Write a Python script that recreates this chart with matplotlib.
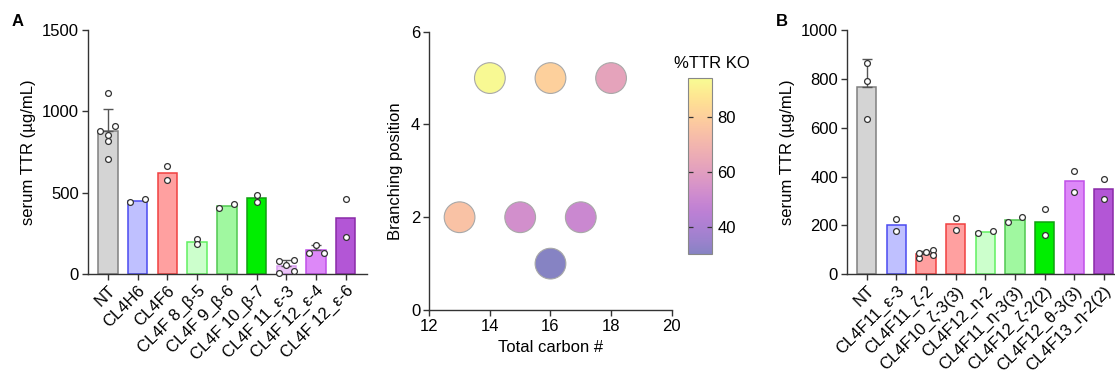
import numpy as np
import matplotlib
matplotlib.use("Agg")
import matplotlib.pyplot as plt
from matplotlib.colors import ListedColormap

plt.rcParams['font.family'] = ['Liberation Sans', 'DejaVu Sans']

# panel A: serum TTR per lipid
a_labels = ["NT", "CL4H6", "CL4F6", "CL4F 8_β-5", "CL4F 9_β-6", "CL4F 10_β-7",
            "CL4F 11_ε-3", "CL4F 12_ε-4", "CL4F 12_ε-6"]
a_points = [[1114, 910, 880, 857, 818, 706],
            [441, 463],
            [667, 576],
            [218, 184],
            [410, 429],
            [490, 441],
            [88, 82, 59, 10, 18],
            [131, 182, 131],
            [462, 231]]
a_face = ['#d4d4d4', '#bfc0ff', '#ffa0a0', '#ccffcc', '#a0f8a0', '#00ee00',
          '#ecc4f8', '#dd88f8', '#b356d6']
a_edge = ['#808080', '#4a4af0', '#f04040', '#60f060', '#50c850', '#10a010',
          '#d89cf0', '#c050e8', '#8a2aa8']

# middle: carbon number vs branching position, coloured by %TTR KO
carbon = [14, 16, 18, 13, 15, 17, 16]
branch = [5, 5, 5, 2, 2, 2, 1]
ttr_ko = [93, 80, 62, 75, 53, 50, 30]

# panel B
b_labels = ["NT", "CL4F11_ε-3", "CL4F11_ζ-2", "CL4F10_ζ-3(3)", "CL4F12_η-2",
            "CL4F11_η-3(3)", "CL4F12_ζ-2(2)", "CL4F12_θ-3(3)", "CL4F13_η-2(2)"]
b_points = [[866, 791, 637],
            [228, 178],
            [93, 98, 68, 79, 86],
            [229, 183],
            [168, 177],
            [214, 233],
            [267, 161],
            [423, 338],
            [390, 307]]
b_face = ['#d4d4d4', '#bfc0ff', '#ffa0a0', '#ffa0a0', '#ccffcc', '#a0f8a0',
          '#00ee00', '#dd88f8', '#b356d6']
b_edge = ['#808080', '#4a4af0', '#f04040', '#f04040', '#60f060', '#50c850',
          '#10a010', '#c050e8', '#8a2aa8']

AX_COL = '#333333'


def swarm(vals, ymax):
    # spread points that fall in the same row (about one marker tall)
    vals = np.asarray(vals, float)
    rows = np.floor(vals / (ymax * 0.0266)).astype(int)
    off = np.zeros(len(vals))
    for r in np.unique(rows):
        idx = np.where(rows == r)[0]
        idx = idx[np.argsort(vals[idx])]
        if len(idx) > 1:
            off[idx] = np.linspace(-0.25, 0.25, len(idx))
    return off


def style_axes(ax):
    for s in ['top', 'right']:
        ax.spines[s].set_visible(False)
    for s in ['left', 'bottom']:
        ax.spines[s].set_color(AX_COL)
        ax.spines[s].set_linewidth(1.0)
    ax.tick_params(direction='out', length=4.5, width=1.0, color=AX_COL,
                   labelsize=12, pad=2)


def bar_panel(ax, labels, points, face, edge, ymax, step, xmax):
    x = np.arange(len(labels))
    means = [np.mean(p) for p in points]
    ax.bar(x, means, width=0.65, color=face, edgecolor=edge, linewidth=1.1, zorder=2)
    for i, p in enumerate(points):
        if len(p) >= 3:
            sd = np.std(p, ddof=1)
            ax.errorbar(x[i], means[i], yerr=[[0], [sd]], fmt='none', ecolor='#555555',
                        elinewidth=1.0, capsize=3.5, capthick=1.0, zorder=3)
        ax.plot(x[i] + swarm(p, ymax), p, 'o', ms=4.2, mfc='white', mec='#333333',
                mew=0.9, zorder=4, clip_on=False)
    ax.set_xlim(-0.67, xmax)
    ax.set_ylim(0, ymax)
    ax.set_yticks(np.arange(0, ymax + 1, step))
    ax.set_xticks(x)
    ax.set_xticklabels(labels, rotation=45, ha='right', rotation_mode='anchor', fontsize=12)
    ax.set_ylabel('serum TTR (µg/mL)', fontsize=12, labelpad=4)
    style_axes(ax)


fig = plt.figure(figsize=(11.15, 3.75), dpi=100)

ax_a = fig.add_axes([0.0789, 0.2685, 0.2502, 0.6515])
bar_panel(ax_a, a_labels, a_points, a_face, a_edge, 1500, 500, 8.71)

ax_m = fig.add_axes([0.385, 0.1733, 0.2174, 0.7422])
base = plt.get_cmap('plasma')(np.linspace(0, 1, 256))
base[:, :3] = base[:, :3] * 0.5 + 0.5
soft_plasma = ListedColormap(base)
sc = ax_m.scatter(carbon, branch, c=ttr_ko, cmap=soft_plasma, vmin=30, vmax=94,
                  s=490, edgecolors='#a8a8a8', linewidths=0.8, zorder=3)
ax_m.set_xlim(12, 20)
ax_m.set_ylim(0, 6)
ax_m.set_xticks([12, 14, 16, 18, 20])
ax_m.set_yticks([0, 2, 4, 6])
ax_m.set_xlabel('Total carbon #', fontsize=12, labelpad=4)
ax_m.set_ylabel('Branching position', fontsize=12, labelpad=6)
style_axes(ax_m)

cax = fig.add_axes([0.6173, 0.3227, 0.021, 0.4685])
cb = fig.colorbar(sc, cax=cax, ticks=[40, 60, 80])
cb.outline.set_edgecolor('#888888')
cb.outline.set_linewidth(0.8)
cax.tick_params(direction='in', length=3.5, width=0.9, color='#333333', labelsize=12,
                left=True, right=True, pad=4)
fig.text(712 / 1115, 1 - 63 / 375, '%TTR KO', ha='center', va='center', fontsize=12)

ax_b = fig.add_axes([0.7596, 0.2685, 0.2394, 0.6515])
bar_panel(ax_b, b_labels, b_points, b_face, b_edge, 1000, 200, 8.34)

fig.text(18 / 1115, 1 - 21 / 375, 'A', ha='center', va='center', fontsize=12, fontweight='bold')
fig.text(782 / 1115, 1 - 21 / 375, 'B', ha='center', va='center', fontsize=12, fontweight='bold')

fig.savefig('out.png', dpi=100)
